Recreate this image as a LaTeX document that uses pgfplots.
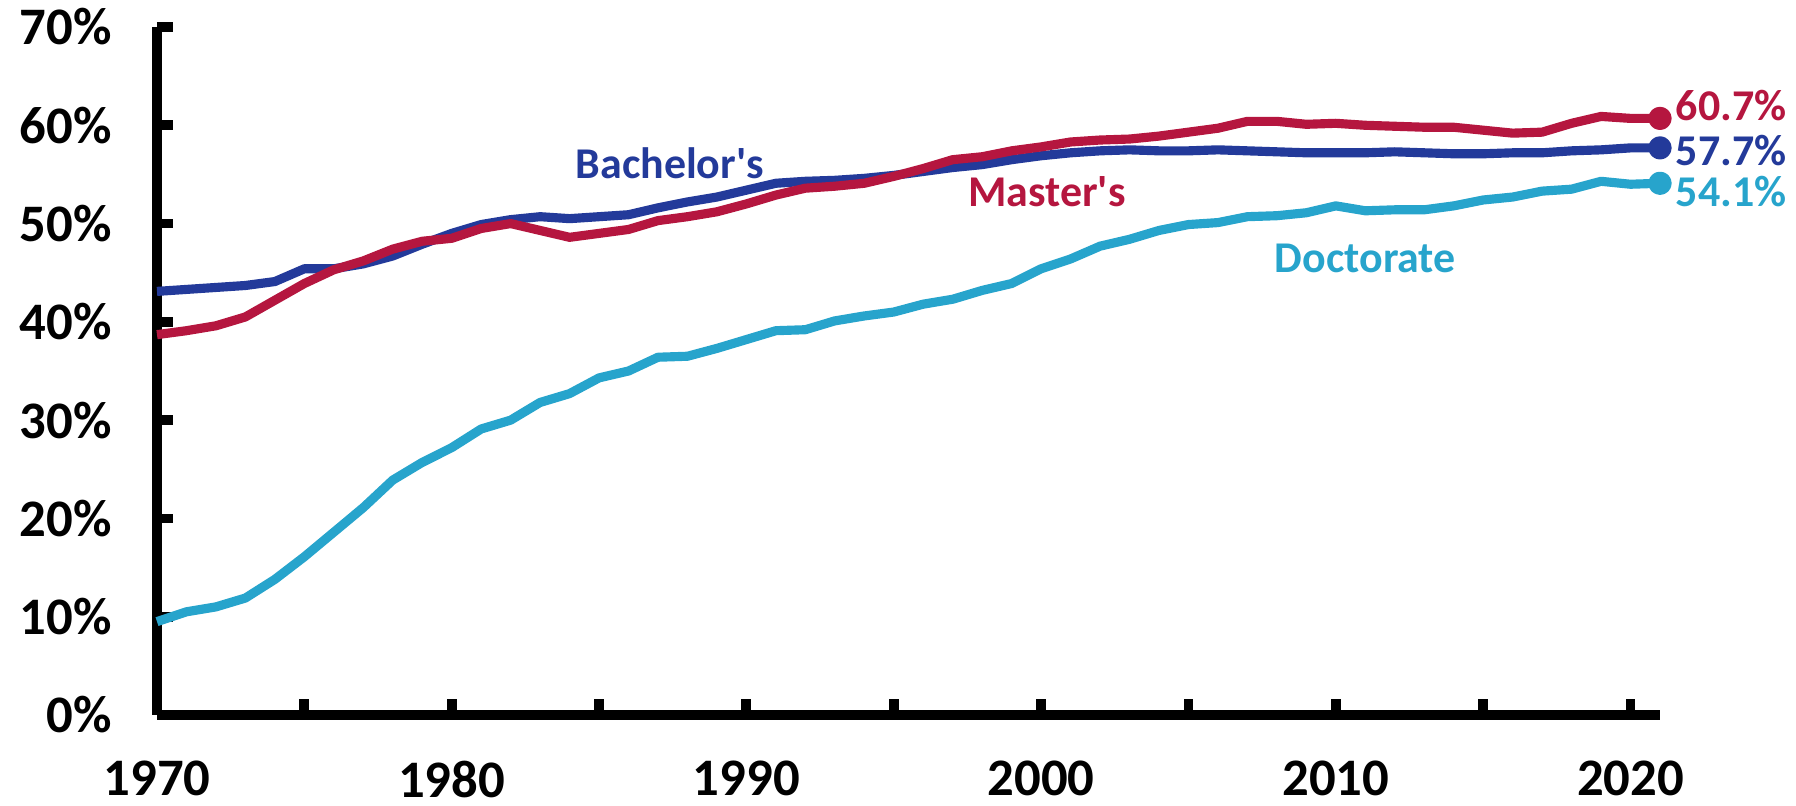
\documentclass[border=0pt]{standalone}
\usepackage{fontspec}
\setmainfont{Carlito}
\usepackage{pgfplots}
\pgfplotsset{compat=1.18}

\definecolor{bach}{HTML}{233A9A}
\definecolor{mast}{HTML}{B5163F}
\definecolor{doct}{HTML}{27A4CC}

\begin{document}
\begin{tikzpicture}
\useasboundingbox (-1.57cm,-0.91cm) rectangle (16.39cm,7.15cm);
\begin{axis}[
  scale only axis, width=15.03cm, height=6.88cm,
  at={(0,0)}, anchor=south west,
  xmin=1970, xmax=2021, ymin=0, ymax=70,
  axis lines=left, axis line style={-, line width=2.8pt},
  tick align=inside, major tick length=0.16cm,
  every tick/.style={black, line width=2.8pt},
  xtick={1970,1975,...,2020},
  xticklabels={1970,,1980,,1990,,2000,,2010,,2020},
  ytick={0,10,...,70},
  yticklabel={\pgfmathprintnumber{\tick}\%},
  /pgf/number format/assume math mode=true,
  tick label style={font=\fontsize{15}{18}\selectfont\bfseries},
  xticklabel style={yshift=-0.34cm},
  yticklabel style={xshift=-0.33cm},
  clip=false,
  every axis plot/.append style={line width=2.6pt, line join=round},
]
% doctorate
\addplot[doct, mark=*, mark indices={52}, mark size=2pt] coordinates {
 (1970,9.5) (1971,10.5) (1972,11.0) (1973,11.9) (1974,13.8) (1975,16.1)
 (1976,18.6) (1977,21.1) (1978,23.9) (1979,25.7) (1980,27.2) (1981,29.1)
 (1982,30.0) (1983,31.8) (1984,32.7) (1985,34.3) (1986,35.0) (1987,36.4)
 (1988,36.5) (1989,37.3) (1990,38.2) (1991,39.1) (1992,39.2) (1993,40.1)
 (1994,40.6) (1995,41.0) (1996,41.8) (1997,42.3) (1998,43.2) (1999,43.9)
 (2000,45.4) (2001,46.4) (2002,47.7) (2003,48.4) (2004,49.3) (2005,49.9)
 (2006,50.1) (2007,50.7) (2008,50.8) (2009,51.1) (2010,51.8) (2011,51.3)
 (2012,51.4) (2013,51.4) (2014,51.8) (2015,52.4) (2016,52.7) (2017,53.3)
 (2018,53.5) (2019,54.3) (2020,54.0) (2021,54.1) };
% bachelor's
\addplot[bach, mark=*, mark indices={52}, mark size=2pt] coordinates {
 (1970,43.1) (1971,43.3) (1972,43.5) (1973,43.7) (1974,44.1) (1975,45.4)
 (1976,45.4) (1977,45.9) (1978,46.7) (1979,47.9) (1980,49.0) (1981,49.9)
 (1982,50.4) (1983,50.7) (1984,50.5) (1985,50.7) (1986,50.9) (1987,51.6)
 (1988,52.2) (1989,52.7) (1990,53.4) (1991,54.1) (1992,54.3) (1993,54.4)
 (1994,54.6) (1995,54.9) (1996,55.3) (1997,55.7) (1998,56.0) (1999,56.5)
 (2000,56.9) (2001,57.2) (2002,57.4) (2003,57.5) (2004,57.4) (2005,57.4)
 (2006,57.5) (2007,57.4) (2008,57.3) (2009,57.2) (2010,57.2) (2011,57.2)
 (2012,57.3) (2013,57.2) (2014,57.1) (2015,57.1) (2016,57.2) (2017,57.2)
 (2018,57.4) (2019,57.5) (2020,57.7) (2021,57.7) };
% master's
\addplot[mast, mark=*, mark indices={52}, mark size=2pt] coordinates {
 (1970,38.7) (1971,39.1) (1972,39.6) (1973,40.5) (1974,42.2) (1975,43.9)
 (1976,45.3) (1977,46.2) (1978,47.4) (1979,48.2) (1980,48.5) (1981,49.5)
 (1982,50.0) (1983,49.3) (1984,48.6) (1985,49.0) (1986,49.4) (1987,50.3)
 (1988,50.7) (1989,51.2) (1990,52.0) (1991,52.9) (1992,53.6) (1993,53.8)
 (1994,54.1) (1995,54.8) (1996,55.6) (1997,56.5) (1998,56.8) (1999,57.4)
 (2000,57.8) (2001,58.3) (2002,58.5) (2003,58.6) (2004,58.9) (2005,59.3)
 (2006,59.7) (2007,60.4) (2008,60.4) (2009,60.1) (2010,60.2) (2011,60.0)
 (2012,59.9) (2013,59.8) (2014,59.8) (2015,59.5) (2016,59.2) (2017,59.3)
 (2018,60.2) (2019,60.9) (2020,60.7) (2021,60.7) };

\tikzset{lbl/.style={font=\fontsize{12.5}{15}\selectfont\bfseries}}
\node[lbl, bach] at (axis cs:1987.4,56.1) {Bachelor\textquotesingle s};
\node[lbl, mast] at (axis cs:2000.2,53.2) {Master\textquotesingle s};
\node[lbl, doct] at (axis cs:2011.0,46.5) {Doctorate};
\node[lbl, mast, anchor=west, xshift=1pt] at (axis cs:2021,62.0) {60.7\%};
\node[lbl, bach, anchor=west, xshift=1pt] at (axis cs:2021,57.4) {57.7\%};
\node[lbl, doct, anchor=west, xshift=1pt] at (axis cs:2021,53.3) {54.1\%};
\end{axis}
\end{tikzpicture}
\end{document}
